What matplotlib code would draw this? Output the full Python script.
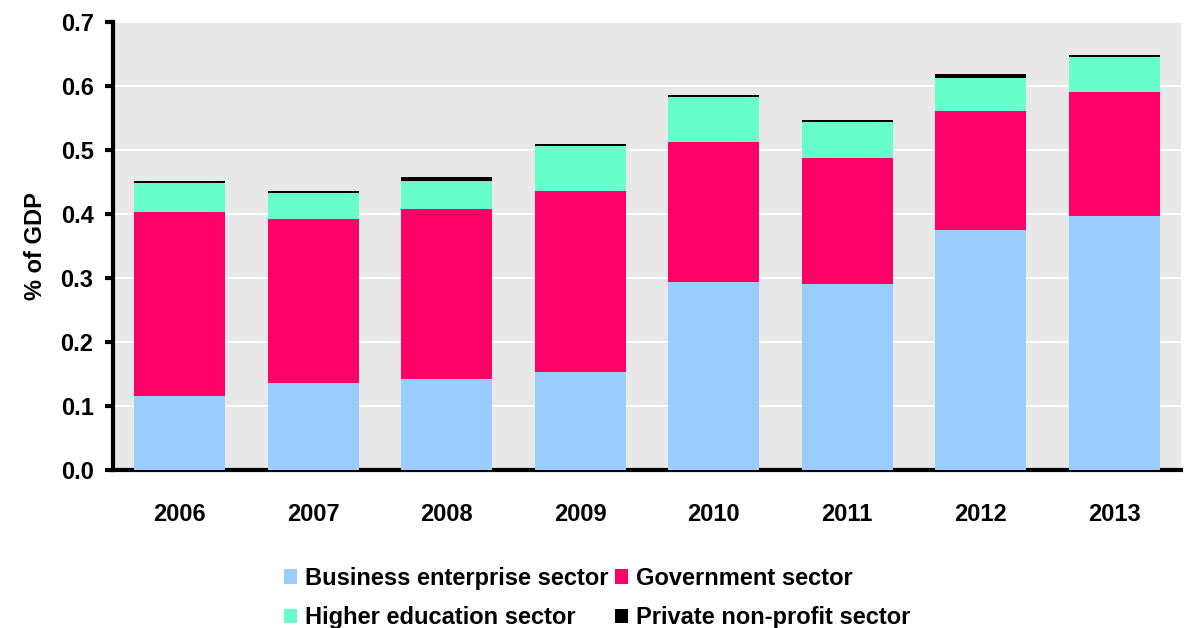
import matplotlib.pyplot as plt
import numpy as np

plt.rcParams['font.family'] = ['Liberation Sans', 'DejaVu Sans']
plt.rcParams['font.weight'] = 'bold'

years = ['2006', '2007', '2008', '2009', '2010', '2011', '2012', '2013']
business = [0.115, 0.135, 0.142, 0.153, 0.293, 0.291, 0.375, 0.396]
government = [0.288, 0.257, 0.265, 0.282, 0.220, 0.196, 0.186, 0.194]
higher_ed = [0.046, 0.040, 0.044, 0.071, 0.070, 0.057, 0.051, 0.056]
private_np = [0.003, 0.004, 0.006, 0.004, 0.003, 0.003, 0.006, 0.003]

series = [
    ('Business enterprise sector', business, '#99ccff'),
    ('Government sector', government, '#ff0066'),
    ('Higher education sector', higher_ed, '#66ffcc'),
    ('Private non-profit sector', private_np, '#000000'),
]

fig = plt.figure(figsize=(11.84, 6.28), dpi=100)
ax = fig.add_axes([0.0954, 0.252, 0.902, 0.713])
ax.set_facecolor('#e8e8e8')

x = np.arange(len(years))
bottom = np.zeros(len(years))
handles = []
for name, vals, col in series:
    b = ax.bar(x, vals, 0.68, bottom=bottom, color=col, label=name, zorder=3)
    handles.append(b)
    bottom += np.array(vals)

ax.set_xlim(-0.5, 7.5)
ax.set_ylim(0, 0.7)
ax.set_yticks(np.arange(0, 0.71, 0.1))
ax.set_yticklabels(['%.1f' % v for v in np.arange(0, 0.71, 0.1)])
ax.set_xticks(x)
ax.set_xticklabels(years)
ax.yaxis.grid(True, color='white', linewidth=1.5, zorder=0)
ax.set_axisbelow(True)

for s in ['top', 'right']:
    ax.spines[s].set_visible(False)
for s in ['left', 'bottom']:
    ax.spines[s].set_linewidth(3)
ax.tick_params(axis='y', length=6, width=3, labelsize=17, pad=8)
ax.tick_params(axis='x', length=0, labelsize=17, pad=24)
ax.set_ylabel('% of GDP', fontsize=17, fontweight='bold', labelpad=10)

# row-wise order like the original: business, government / higher ed, private
order = [0, 2, 1, 3]
fig.legend([handles[i] for i in order], [series[i][0] for i in order],
           loc='lower left', bbox_to_anchor=(0.222, -0.036), ncol=2, frameon=False,
           fontsize=17, handlelength=0.55, handleheight=0.55, handletextpad=0.35,
           columnspacing=0.25, labelspacing=0.7)

fig.savefig('out.png', dpi=100)
